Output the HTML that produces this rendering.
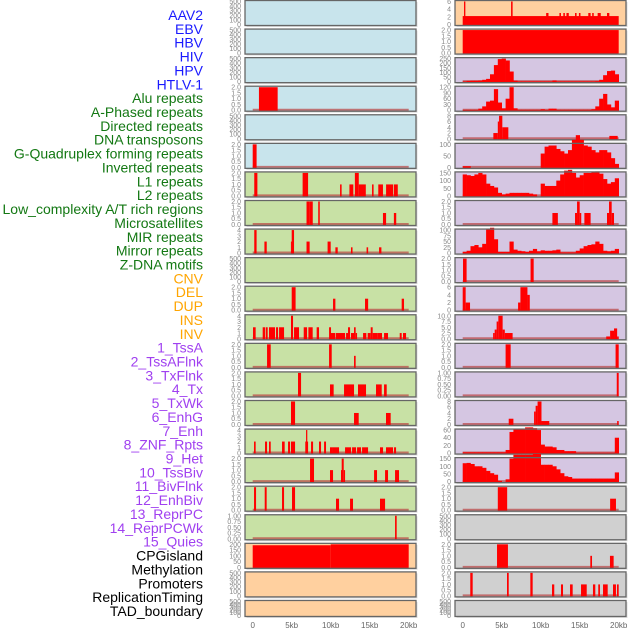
<!DOCTYPE html>
<html><head><meta charset="utf-8"><style>
html,body{margin:0;padding:0;background:#fff;width:630px;height:630px;overflow:hidden}
svg{display:block;font-family:"Liberation Sans",sans-serif}
</style></head><body>
<svg id="chart" width="630" height="630" viewBox="0 0 630 630" xmlns="http://www.w3.org/2000/svg"></svg>
<script>
// ---- labels ----
const labels = ["AAV2","EBV","HBV","HIV","HPV","HTLV-1","Alu repeats","A-Phased repeats","Directed repeats","DNA transposons","G-Quadruplex forming repeats","Inverted repeats","L1 repeats","L2 repeats","Low_complexity A/T rich regions","Microsatellites","MIR repeats","Mirror repeats","Z-DNA motifs","CNV","DEL","DUP","INS","INV","1_TssA","2_TssAFlnk","3_TxFlnk","4_Tx","5_TxWk","6_EnhG","7_Enh","8_ZNF_Rpts","9_Het","10_TssBiv","11_BivFlnk","12_EnhBiv","13_ReprPC","14_ReprPCWk","15_Quies","CPGisland","Methylation","Promoters","ReplicationTiming","TAD_boundary"];
const labelGroups = ["virus","virus","virus","virus","virus","virus","repeat","repeat","repeat","repeat","repeat","repeat","repeat","repeat","repeat","repeat","repeat","repeat","repeat","sv","sv","sv","sv","sv","state","state","state","state","state","state","state","state","state","state","state","state","state","state","state","other","other","other","other","other"];
const xTickValues = [0,5,10,15,20];
const xTickLabels = ["0","5kb","10kb","15kb","20kb"];

// ---- tick sets ----
const ticksEmpty = [0,100,200,300,400,500];
const ticks2 = [0,0.5,1,1.5,2];
const ticks4 = [0,1,2,3,4];
const ticks1 = [0,0.25,0.5,0.75,1];

// ---- bar data [startKb, endKb, value] ----
const barsHIV = [[0.8,3.2,2]];
const barsHTLV = [[0,0.5,2]];
const barsAlu = [[0.2,0.6,2],[6.4,7.1,2],[11.2,11.4,1],[12.4,12.9,1],[13.1,13.6,2],[13.6,14.5,1],[15.3,15.5,1],[16.1,16.7,1],[17.1,18.0,1],[18.1,18.6,1]];
const barsAPhased = [[6.9,7.3,2],[7.3,7.7,2],[8.4,8.6,2],[16.7,17.1,1],[18.1,18.4,1]];
const barsDirected = [[0.2,0.5,4],[1.5,1.8,2],[4.9,5.0,2],[5.0,5.3,4],[6.9,7.3,2],[9.6,10.0,2],[10.6,10.9,1],[12.6,12.8,1],[14.6,14.8,1],[16.2,16.5,1]];
const barsGQuad = [[5.0,5.5,2],[10.3,10.6,1],[14.4,14.8,1],[19.1,19.4,1]];
const barsInverted = [[0.04,0.38,2],[1.28,1.58,2],[1.67,1.92,2],[2.09,2.86,2],[2.99,3.25,2],[3.38,4.02,2],[4.91,5.17,4],[5.3,5.94,2],[6.54,6.97,2],[7.14,7.69,2],[8.2,8.5,2],[9.79,10.04,2],[10.04,10.56,1],[10.64,11.84,1],[11.97,12.22,1],[12.22,12.48,2],[12.6,12.99,1],[12.99,13.2,2],[13.2,13.38,1],[14.15,14.57,1],[14.74,15.13,1],[15.13,15.38,2],[15.38,16.03,1],[16.03,16.58,1],[16.84,17.35,1],[18.85,19.1,1],[19.27,19.66,1]];
const barsL1 = [[1.84,2.31,2],[9.79,10.13,2],[12.99,13.2,1]];
const barsL2 = [[5.81,6.2,2],[9.91,10.38,1],[11.71,12.99,1],[13.5,14.53,1],[15.81,16.54,1],[16.84,17.18,1]];
const barsLowComp = [[4.91,5.43,2],[12.99,13.59,1],[17.09,17.69,1]];
const barsMicro = [[0.17,0.38,2],[1.58,1.84,2],[2.09,2.31,2],[3.76,4.1,2],[4.53,4.79,2],[4.91,5.43,2],[6.74,7.1,2],[6.84,7.0,4],[7.48,7.74,2],[8.5,8.76,2],[9.15,9.4,2],[9.91,10.17,1],[10.17,11.07,1],[11.84,12.61,1],[12.74,13.25,1],[13.38,13.89,1],[14.02,14.79,1],[16.32,16.71,1],[17.09,17.99,1],[18.12,18.38,1]];
const barsMIR = [[7.35,7.86,2],[9.91,10.3,1],[11.32,11.41,1],[11.41,11.67,2],[11.67,11.84,1],[15.56,15.94,1],[16.97,17.35,1],[18.25,18.76,1]];
const barsMirror = [[0.17,0.43,2],[1.54,1.79,2],[3.76,4.02,2],[5.04,5.43,2],[10.68,11.07,1],[12.48,12.86,1],[16.32,16.97,1]];
const barsZDNA = [[18.25,18.46,1]];
const barsCNV = [[0,10,192],[10,20,200]];
const barsINS = [[0,20,2.2],[0.17,0.34,6],[6.2,6.4,6],[10.7,11.0,3],[12.4,12.6,3],[12.9,13.1,3],[13.3,13.6,3],[14.4,14.6,3],[14.9,15.1,3],[16.1,16.4,3],[16.6,16.8,3],[17.3,17.7,3],[18.5,18.8,3]];
const barsINV = [[0,20,2]];
const barsTxFlnk = [[3.93,4.5,2],[4.5,4.66,6],[4.66,5.08,8],[5.08,5.85,4],[18.8,19.87,1]];
const barsEnhG = [[11.5,12.2,1],[14.4,14.66,1],[14.66,15.0,2],[15.0,15.2,1],[15.6,16.4,1],[18.5,18.76,1],[18.76,19.1,2],[19.1,19.4,1]];
const barsZNF = [[0.04,0.5,2],[8.7,9.1,2]];
const barsHet = [[0,0.38,6],[0.38,0.94,2],[7.1,7.4,2],[7.4,8.3,6],[8.3,8.6,4]];
const barsTssBiv = [[3.9,4.1,2.5],[4.1,4.35,4],[4.35,4.57,7.5],[4.57,5.12,10],[5.12,5.4,4],[5.4,6.4,2.5],[18.4,18.9,1],[18.9,19.4,3.5],[19.4,19.8,4.5],[19.8,20,1]];
const barsBivFlnk = [[5.5,6.15,2],[19.6,20.0,2]];
const barsEnhBiv = [[19.75,20.0,1]];
const barsReprPC = [[5.9,6.5,2],[9.15,9.35,4.5],[9.35,9.6,6.5],[9.6,10.1,8],[10.1,11.1,1.2],[19.8,20,1.2]];
const barsCPG = [[4.5,5.7,2],[18.9,19.65,1]];
const barsPromoters = [[4.4,5.8,2],[16.36,16.58,1],[18.88,19.35,1]];
const barsRepTiming = [[0.97,1.28,2],[5.68,5.9,2],[8.67,8.97,2],[11.45,11.74,1],[12.6,12.86,1],[13.76,14.1,1],[15.17,15.9,1],[16.7,17.0,1],[17.38,17.6,1],[17.99,18.59,1],[19.27,19.65,1],[19.78,20.0,1]];

// ---- profile data (0.5kb bins) ----
const binsTssA = [3,8,10,10,12,20,30,80,180,245,250,230,110,10,3,3,3,3,3,3,3,3,3,12,3,3,3,3,3,3,3,3,3,3,5,20,70,115,120,80];
const binsTssAFlnk = [2,2,2,2,8,20,45,50,110,40,10,60,120,10,2,2,2,2,2,2,5,2,8,8,2,2,2,2,2,2,2,2,2,5,20,60,85,30,15,50];
const binsTx = [5,5,0,0,0,0,0,0,0,0,0,0,0,0,0,0,0,0,0,0,60,90,95,95,80,70,60,75,120,140,120,95,90,75,65,75,75,65,40,15];
const binsTxWk = [140,135,130,140,150,140,80,65,55,20,10,15,20,20,20,20,20,15,10,0,80,65,65,65,100,140,165,170,150,120,135,150,150,155,160,145,110,80,90,115];
const binsEnh = [5,10,30,35,25,40,105,110,60,5,5,5,50,15,10,8,5,10,18,8,12,10,10,12,15,3,3,3,3,10,20,30,35,38,50,40,10,8,10,18];
const binsReprPCWk = [2,2,2,2,2,2,2,2,2,2,2,8,55,62,62,63,67,67,65,60,22,17,17,15,8,8,5,5,5,1,1,1,1,1,1,1,1,1,1,40];
const binsQuies = [120,122,115,100,100,90,70,55,45,5,0,15,150,175,175,175,175,175,180,180,110,110,110,100,80,55,35,30,20,20,20,20,20,20,20,20,20,20,20,60];

const BG = {virus:"#c8e4ec", repeat:"#c8e1a5", sv:"#ffd09f", state:"#d5c6e2", other:"#d0d0d0"};
const LBL = {virus:"#1a1aff", repeat:"#137813", sv:"#ffa500", state:"#a040f0", other:"#000"};

const panels = [
 {t:ticksEmpty},{t:ticksEmpty},{t:ticksEmpty},{t:ticks2,b:barsHIV},{t:ticksEmpty},{t:ticks2,b:barsHTLV},
 {t:ticks2,b:barsAlu},{t:ticks2,b:barsAPhased},{t:ticks4,b:barsDirected},{t:ticksEmpty},{t:ticks2,b:barsGQuad},
 {t:ticks4,b:barsInverted},{t:ticks2,b:barsL1},{t:ticks2,b:barsL2},{t:ticks2,b:barsLowComp},{t:ticks4,b:barsMicro},
 {t:ticks2,b:barsMIR},{t:ticks2,b:barsMirror},{t:ticks1,b:barsZDNA},{t:[0,50,100,150,200],b:barsCNV,nobase:true},{t:ticksEmpty},{t:ticksEmpty},
 {t:[0,2,4,6],b:barsINS,nobase:true},{t:ticks2,b:barsINV,nobase:true},{t:[0,50,100,150,200,250],p:binsTssA},{t:[0,30,60,90,120],p:binsTssAFlnk},
 {t:[0,2,4,6,8],b:barsTxFlnk},{t:[0,50,100],p:binsTx},{t:[0,50,100,150],p:binsTxWk},{t:ticks2,b:barsEnhG},
 {t:[0,25,50,75,100],p:binsEnh},{t:ticks2,b:barsZNF},{t:[0,2,4,6],b:barsHet},{t:[0,2.5,5,7.5,10],b:barsTssBiv},
 {t:ticks2,b:barsBivFlnk},{t:ticks1,b:barsEnhBiv},{t:[0,2,4,6,8],b:barsReprPC},{t:[0,20,40,60],p:binsReprPCWk},
 {t:[0,50,100,150],p:binsQuies},{t:ticks2,b:barsCPG},{t:ticksEmpty},{t:ticks2,b:barsPromoters},{t:ticks2,b:barsRepTiming},{t:ticksEmpty}
];

const NS="http://www.w3.org/2000/svg";
const svg=document.getElementById('chart');
function mk(tag,attrs,parent){const e=document.createElementNS(NS,tag);for(const k in attrs)e.setAttribute(k,attrs[k]);(parent||svg).appendChild(e);return e;}
function fmt(v,ts){const dec=ts.some(x=>x%1!==0);if(!dec)return String(v);const twod=ts.some(x=>Math.round(x*100)%50!==0);return v.toFixed(twod?2:1);}

// labels
labels.forEach((s,i)=>{
  const t=mk('text',{x:203,y:20+i*13.86,'text-anchor':'end','font-size':14,fill:LBL[labelGroups[i]]});
  t.textContent=s;
  
  
});

panels.forEach((p,i)=>{
  const col=i<22?0:1, row=i%22;
  const px0=col?455:245, W=171, x0=col?462.7:252.7, kbW=7.8;
  const top=row*28.57+0.5, h=row===21?16:25;
  const xs=kb=>x0+kb*kbW;
  const max=p.t[p.t.length-1];
  const ys=v=>top+h-1-v/max*(h-2);
  const g=mk('g',{});
  
  
  mk('rect',{x:px0+1.5,y:top+1.5,width:W,height:h,fill:'#ddd'},g);
  mk('rect',{x:px0,y:top,width:W,height:h,fill:BG[labelGroups[i]]},g);
  const hasData=!!(p.b||p.p);
  if(hasData && !p.nobase) mk('line',{x1:xs(0),x2:xs(20),y1:top+h-1.5,y2:top+h-1.5,stroke:'#b44',"stroke-width":2,opacity:0.7},g);
  if(p.b) p.b.forEach(d=>{
    const r=mk('rect',{x:xs(d[0]),y:ys(d[2]),width:Math.max(1,xs(d[1])-xs(d[0])),height:top+h-ys(d[2]),fill:'#ff0000'},g);
    
    
  });
  if(p.p) p.p.forEach((v,k)=>{
    if(v<=0)return;
    const r=mk('rect',{x:xs(k*0.5),y:ys(v),width:xs(0.5)-xs(0)+0.3,height:top+h-ys(v),fill:'#ff0000'},g);
    
    
  });
  mk('rect',{x:px0,y:top,width:W,height:h,fill:'none',stroke:'#666','stroke-width':1.3},g);
  p.t.forEach(tv=>{
    const t=mk('text',{x:px0-4,y:ys(tv)+2.5,'text-anchor':'end','font-size':7,fill:'#888'},g);
    t.textContent=fmt(tv,p.t);
    
    
  });
});

[252.7,462.7].forEach(x0=>{
  xTickValues.forEach((v,k)=>{
    const t=mk('text',{x:x0+v*7.8,y:628,'text-anchor':'middle','font-size':8,fill:'#666'});
    t.textContent=xTickLabels[k];
    
    
  });
});
</script>
</body></html>
